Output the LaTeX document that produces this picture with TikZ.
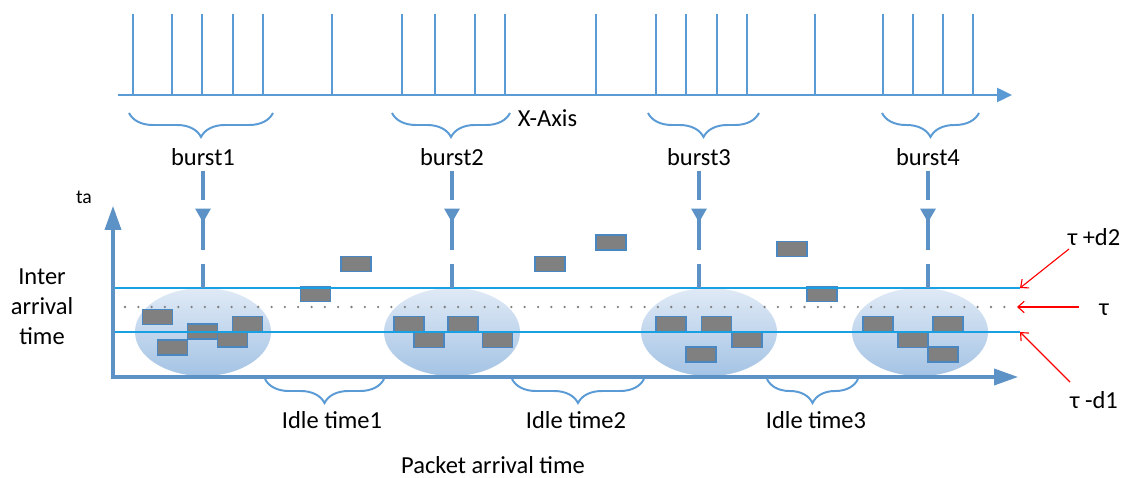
\documentclass[tikz,border=0pt]{standalone}
\usepackage{fontspec}
\setmainfont{Carlito}
\usetikzlibrary{arrows.meta,positioning,shapes.geometric,decorations.pathreplacing,decorations.markings}

\definecolor{spikeblue}{RGB}{91,155,213}
\definecolor{axisblue}{RGB}{92,146,198}
\definecolor{limitblue}{RGB}{24,160,226}
\definecolor{pktedge}{RGB}{74,134,192}
\definecolor{pktgray}{RGB}{128,128,128}
\definecolor{cloudtop}{RGB}{224,234,246}
\definecolor{cloudbot}{RGB}{164,195,228}

\begin{document}
\begin{tikzpicture}[x=0.025cm, y=-0.025cm,
  font=\fontsize{17.4}{21.3}\selectfont,
  spike/.style={spikeblue, line width=1.4pt},
  grpbrace/.style={spikeblue, line width=1.4pt, decorate,
    decoration={brace, mirror, amplitude=0.6cm}},
  axisline/.style={axisblue, line width=2.2pt,
    {Triangle[length=17pt, width=11.5pt]}-{Triangle[length=17pt, width=11.5pt]}},
  burstline/.style={axisblue, line width=2.4pt,
    dash pattern=on 0.725cm off 0.225cm on 1.025cm off 0.35cm on 0.75cm,
    postaction={decorate},
    decoration={markings, mark=at position 1.3cm with {\arrow{Triangle[length=10pt, width=10.6pt]}}}},
  cloud/.style={ellipse, minimum width=3.4cm, minimum height=2.2cm, inner sep=0pt,
    top color=cloudtop, bottom color=cloudbot},
  pkt/.style={draw=pktedge, fill=pktgray, line width=1.2pt, inner sep=0pt,
    minimum width=0.75cm, minimum height=0.38cm},
  limit/.style={limitblue, line width=1pt},
  taudots/.style={gray, line width=1.8pt, line cap=round, dash pattern=on 0pt off 0.333cm},
  redarrow/.style={red, line width=0.8pt, -{Straight Barb[length=4.5pt, width=8pt]}}]

  \useasboundingbox (0,0) rectangle (1133,478);

  % Packet train on the X-axis
  \foreach \sx in {133,172,202,233,263,332,402,435,475,505,596,656,686,717,747,815,883,913,943,973}
    \draw[spike] (\sx,95) -- (\sx,14);
  \coordinate (xs) at (118,95);
  \coordinate (xe) at (1012,95);
  \draw[spike, -{Triangle[length=10.6pt, width=10pt]}] (xs) -- (xe);
  \node[anchor=west] (xlab) at (513,118) {X-Axis};

  % Bursts
  \draw[grpbrace] (129,113) -- (273,113);
  \draw[grpbrace] (392,113) -- (510,113);
  \draw[grpbrace] (648,113) -- (759,113);
  \draw[grpbrace] (882,113) -- (979,113);
  \node (b1) at (203,157) {burst1};
  \node (b2) at (452,157) {burst2};
  \node (b3) at (699,157) {burst3};
  \node (b4) at (928,157) {burst4};

  % Burst clusters
  \node[cloud] (e1) at (203,332) {};
  \node[cloud] (e2) at (452,332) {};
  \node[cloud] (e3) at (709,332) {};
  \node[cloud] (e4) at (920,332) {};

  % Inter arrival times
  \node[pkt] (p1) at (157.5,317) {};
  \node[pkt] (p2) at (172.5,347.5) {};
  \node[pkt] (p3) at (202.5,331.5) {};
  \node[pkt] (p4) at (232.5,339.5) {};
  \node[pkt] (p5) at (247.5,324) {};
  \node[pkt] (p6) at (315.5,294) {};
  \node[pkt] (p7) at (356,264) {};
  \node[pkt] (p8) at (409,324) {};
  \node[pkt] (p9) at (429,340) {};
  \node[pkt] (p10) at (463,324) {};
  \node[pkt] (p11) at (497.5,340) {};
  \node[pkt] (p12) at (550,264) {};
  \node[pkt] (p13) at (611,242.5) {};
  \node[pkt] (p14) at (671,324) {};
  \node[pkt] (p15) at (716.5,324) {};
  \node[pkt] (p16) at (747,340) {};
  \node[pkt] (p17) at (701,354.5) {};
  \node[pkt] (p18) at (792,249) {};
  \node[pkt] (p19) at (822,294) {};
  \node[pkt] (p20) at (878,324) {};
  \node[pkt] (p21) at (913,340) {};
  \node[pkt] (p22) at (948,324) {};
  \node[pkt] (p23) at (943,354.5) {};

  % Thresholds
  \coordinate (up0) at (113,288);
  \coordinate (up1) at (1020,288);
  \coordinate (mid0) at (125,307);
  \coordinate (mid1) at (1017,307);
  \coordinate (lo0) at (113,332);
  \coordinate (lo1) at (1020,332);
  \draw[limit] (up0) -- (up1);
  \draw[taudots] (mid0) -- (mid1);
  \draw[limit] (lo0) -- (lo1);

  % Axes
  \coordinate (org) at (113,377);
  \coordinate (ytop) at (113,206);
  \coordinate (xend) at (1018,377);
  \draw[axisline] (ytop) -- (org) -- (xend);
  \node[font=\fontsize{14}{16}\selectfont] (ta) at (84,197) {ta};
  \node[align=center] (ylab) at (42,307) {Inter\\arrival\\time};

  % Burst markers
  \foreach \b/\e in {b1/e1,b2/e2,b3/e3,b4/e4}
    \draw[burstline] (\b.south) -- (\b.south |- \e.north);

  % Idle periods
  \draw[grpbrace] (265,379) -- (384,379);
  \draw[grpbrace] (512,379) -- (644,379);
  \draw[grpbrace] (767,379) -- (858,379);
  \node (i1) at (332,420) {Idle time1};
  \node (i2) at (576,420) {Idle time2};
  \node (i3) at (816,420) {Idle time3};
  \node[anchor=base, inner sep=1pt] (xlab2) at (493,474) {Packet arrival time};

  % Threshold labels
  \node (tup) at (1094,237) {τ +d2};
  \node (tmid) at (1104,310) {τ};
  \node (tlow) at (1094,400) {τ -d1};
  \coordinate (rup) at (1069,249);
  \coordinate (rmid) at (1079,307);
  \coordinate (rlow) at (1070,382);
  \draw[redarrow] (rup) -- (up1);
  \draw[redarrow] (rmid) -- (mid1);
  \draw[redarrow] (rlow) -- (lo1);
\end{tikzpicture}
\end{document}
